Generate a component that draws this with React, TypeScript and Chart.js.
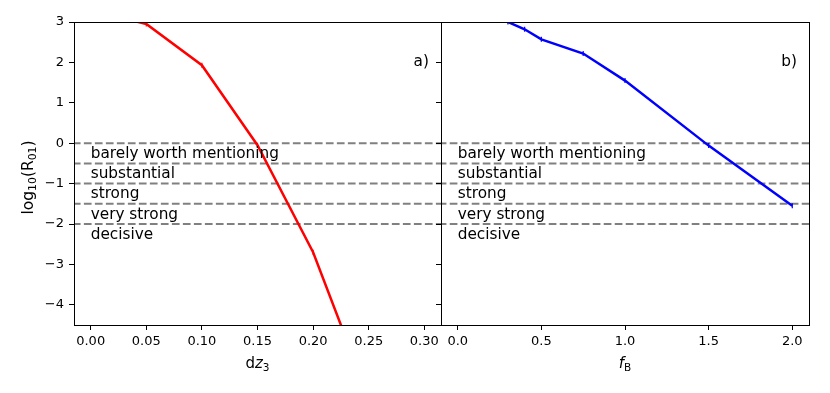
import React, { useEffect, useRef } from "react";
import { Chart, registerables } from "chart.js";

Chart.register(...registerables);

const dzValues = [0, 0.05, 0.1, 0.15, 0.2, 0.25];
const dzLogR = [3.3, 2.95, 1.93, -0.05, -2.7, -6.3];
const fbValues = [0.2, 0.3, 0.4, 0.5, 0.75, 1.0, 1.5, 2.0];
const fbLogR = [3.4, 3.0, 2.82, 2.57, 2.22, 1.55, -0.06, -1.55];

const dzTicks = [0, 0.05, 0.1, 0.15, 0.2, 0.25, 0.3];
const fbTicks = [0, 0.5, 1.0, 1.5, 2.0];
const yTicks = [-4, -3, -2, -1, 0, 1, 2, 3];

const levelLines = [0, -0.5, -1, -1.5, -2];
const levelLabels = ["barely worth mentioning", "substantial", "strong", "very strong", "decisive"];
const levelLabelY = [-0.27, -0.77, -1.27, -1.77, -2.27];

const FONT = '"DejaVu Sans", sans-serif';

type Part = { t: string; it?: boolean; sub?: boolean };

function drawRich(ctx: CanvasRenderingContext2D, parts: Part[], size: number, cx: number, baseY: number) {
  const fontFor = (p: Part) => `${p.it ? "italic " : ""}${p.sub ? size * 0.7 : size}px ${FONT}`;
  let total = 0;
  const widths = parts.map((p) => {
    ctx.font = fontFor(p);
    const w = ctx.measureText(p.t).width;
    total += w;
    return w;
  });
  let x = cx - total / 2;
  ctx.textAlign = "left";
  ctx.textBaseline = "alphabetic";
  ctx.fillStyle = "#000";
  parts.forEach((p, i) => {
    ctx.font = fontFor(p);
    ctx.fillText(p.t, x, baseY + (p.sub ? size * 0.22 : 0));
    x += widths[i];
  });
}

function makeDecor(id: string, xTitle: Part[], panel: string, drawYTitle: boolean) {
  return {
    id,
    afterDatasetsDraw(chart: any) {
      const ctx = chart.ctx as CanvasRenderingContext2D;
      const a = chart.chartArea;
      const xs = chart.scales.x;
      const ys = chart.scales.y;
      ctx.save();
      ctx.font = `15.3px ${FONT}`;
      ctx.fillStyle = "#000";
      ctx.textAlign = "left";
      ctx.textBaseline = "middle";
      levelLabels.forEach((lab, i) => {
        ctx.fillText(lab, xs.getPixelForValue(0), ys.getPixelForValue(levelLabelY[i]));
      });
      ctx.textAlign = "right";
      ctx.fillText(panel, a.left + (a.right - a.left) * 0.967, ys.getPixelForValue(2));
      ctx.strokeStyle = "#000";
      ctx.lineWidth = 1;
      ctx.strokeRect(a.left + 0.5, a.top + 0.5, a.right - a.left, a.bottom - a.top);
      ctx.restore();
    },
    afterDraw(chart: any) {
      const ctx = chart.ctx as CanvasRenderingContext2D;
      const a = chart.chartArea;
      ctx.save();
      drawRich(ctx, xTitle, 15, (a.left + a.right) / 2, a.bottom + 43);
      if (drawYTitle) {
        ctx.translate(33, (a.top + a.bottom) / 2 + 4);
        ctx.rotate(-Math.PI / 2);
        drawRich(
          ctx,
          [{ t: "log" }, { t: "10", sub: true }, { t: "(R" }, { t: "01", sub: true }, { t: ")" }],
          15.5,
          0,
          0
        );
      }
      ctx.restore();
    },
  };
}

function buildConfig(opts: {
  xs: number[];
  ys: number[];
  color: string;
  xMin: number;
  xMax: number;
  xTicks: number[];
  xFmt: (v: number) => string;
  showYLabels: boolean;
  padding: { left: number; right: number; top: number; bottom: number };
  yWidth: number;
  plugin: any;
}) {
  const hDatasets = levelLines.map((lv) => ({
    data: [
      { x: opts.xMin - 1, y: lv },
      { x: opts.xMax + 1, y: lv },
    ],
    borderColor: "#808080",
    borderWidth: 2,
    borderDash: [7.7, 3.3],
    pointRadius: 0,
    clip: 0,
    order: 2,
  }));
  const main = {
    data: opts.xs.map((x, i) => ({ x, y: opts.ys[i] })),
    borderColor: opts.color,
    backgroundColor: opts.color,
    borderWidth: 2.5,
    pointStyle: "line",
    rotation: 90,
    pointRadius: 2.5,
    pointBorderWidth: 1.2,
    pointBorderColor: opts.color,
    clip: 0,
    order: 1,
  };
  return {
    type: "line" as const,
    data: { datasets: [...hDatasets, main] },
    options: {
      animation: false,
      responsive: false,
      events: [],
      layout: { padding: opts.padding },
      plugins: { legend: { display: false }, tooltip: { enabled: false } },
      scales: {
        x: {
          type: "linear",
          min: opts.xMin,
          max: opts.xMax,
          afterBuildTicks: (s: any) => {
            s.ticks = opts.xTicks.map((v) => ({ value: v }));
          },
          afterFit: (s: any) => {
            s.height = 50;
          },
          ticks: {
            callback: (v: any) => opts.xFmt(Number(v)),
            font: { family: FONT, size: 13 },
            color: "#000",
            padding: 4,
            autoSkip: false,
            maxRotation: 0,
          },
          grid: { drawOnChartArea: false, drawTicks: true, tickLength: 5, tickColor: "#000", tickWidth: 1 },
          border: { display: true, color: "#000", width: 1 },
        },
        y: {
          type: "linear",
          min: -4.5,
          max: 3,
          afterBuildTicks: (s: any) => {
            s.ticks = yTicks.map((v) => ({ value: v }));
          },
          afterFit: (s: any) => {
            s.width = opts.yWidth;
          },
          ticks: {
            display: opts.showYLabels,
            callback: (v: any) => {
              const n = Number(v);
              return n < 0 ? "\u2212" + Math.abs(n) : String(n);
            },
            font: { family: FONT, size: 13 },
            color: "#000",
            padding: 5,
          },
          grid: { drawOnChartArea: false, drawTicks: true, tickLength: 5, tickColor: "#000", tickWidth: 1 },
          border: { display: true, color: "#000", width: 1 },
        },
      },
    },
    plugins: [opts.plugin],
  };
}

export default function App() {
  const ref1 = useRef<HTMLCanvasElement>(null);
  const ref2 = useRef<HTMLCanvasElement>(null);

  useEffect(() => {
    const c1 = new Chart(
      ref1.current!,
      buildConfig({
        xs: dzValues,
        ys: dzLogR,
        color: "#ff0000",
        xMin: -0.015,
        xMax: 0.315,
        xTicks: dzTicks,
        xFmt: (v) => v.toFixed(2),
        showYLabels: true,
        padding: { left: 34, right: 389, top: 22, bottom: 18 },
        yWidth: 40,
        plugin: makeDecor("decorA", [{ t: "d" }, { t: "z", it: true }, { t: "3", sub: true }], "a)", true),
      }) as any
    );
    const c2 = new Chart(
      ref2.current!,
      buildConfig({
        xs: fbValues,
        ys: fbLogR,
        color: "#0000ff",
        xMin: -0.1,
        xMax: 2.1,
        xTicks: fbTicks,
        xFmt: (v) => v.toFixed(1),
        showYLabels: false,
        padding: { left: 436, right: 21, top: 22, bottom: 18 },
        yWidth: 5,
        plugin: makeDecor("decorB", [{ t: "f", it: true }, { t: "B", sub: true }], "b)", false),
      }) as any
    );
    return () => {
      c1.destroy();
      c2.destroy();
    };
  }, []);

  return (
    <div style={{ position: "fixed", left: 0, top: 0, width: 830, height: 393, background: "#fff" }}>
      <canvas ref={ref1} width={830} height={393} style={{ position: "absolute", left: 0, top: 0 }} />
      <canvas ref={ref2} width={830} height={393} style={{ position: "absolute", left: 0, top: 0 }} />
    </div>
  );
}
